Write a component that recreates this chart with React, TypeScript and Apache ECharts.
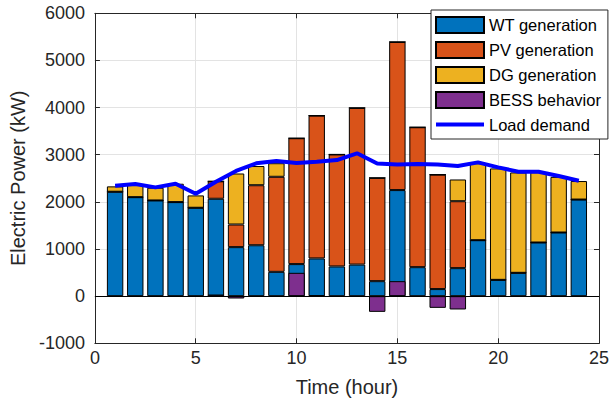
import React, { useEffect, useRef } from "react";
import * as echarts from "echarts";

const hours = [1, 2, 3, 4, 5, 6, 7, 8, 9, 10, 11, 12, 13, 14, 15, 16, 17, 18, 19, 20, 21, 22, 23, 24];
const wtGen = [2215, 2100, 2030, 1995, 1875, 2066, 1040, 1080, 516, 680, 800, 630, 670, 318, 2250, 615, 150, 594, 1187, 346, 495, 1138, 1350, 2049];
const pvGen = [0, 0, 0, 0, 0, 370, 480, 1273, 2016, 2670, 3030, 2376, 3323, 2191, 3142, 2968, 2428, 1420, 0, 0, 0, 0, 0, 0];
const dgGen = [114, 257, 270, 390, 262, 0, 1082, 407, 288, 0, 0, 0, 0, 0, 0, 0, 0, 461, 1633, 2364, 2130, 1492, 1180, 393];
const bess = [0, 0, 0, 0, 0, 35, -50, 0, 0, 495, 20, 0, 0, -333, 318, 0, -248, -283, 0, 0, 0, 0, 0, 0];
const loadDemand = [2342, 2378, 2307, 2385, 2172, 2427, 2657, 2817, 2866, 2824, 2852, 2887, 3030, 2813, 2795, 2802, 2795, 2760, 2838, 2732, 2640, 2640, 2548, 2449];
const xTicks = { min: 0, max: 25, interval: 5 };
const yTicks = { min: -1000, max: 6000, interval: 1000 };

const FONT = "'Liberation Sans', Arial, Helvetica, sans-serif";
const AXIS_COLOR = "#262626";
const GRID_COLOR = "#e3e3e3";
const BAR_W = 16.4;
const LINE_ICON = "path://M0,0L0.01,0ZM0,6L48,6L48,10L0,10ZM48,16L47.99,16Z";

export default function App() {
  const ref = useRef<HTMLDivElement>(null);
  useEffect(() => {
    if (!ref.current) return;
    const chart = echarts.init(ref.current, undefined, { renderer: "svg" });
    const barStyle = (color: string) => ({ color, borderColor: "#000", borderWidth: 1 });
    // hidden category axis spanning 0..25 so that category positions coincide with the value axis
    const slots = [xTicks.min, ...hours, xTicks.max];
    const padded = (vals: number[], dropZero = false) => [
      "-",
      ...vals.map((v) => (dropZero && v === 0 ? "-" : v)),
      "-",
    ];
    const tickLine = { show: true, inside: true, length: 5, lineStyle: { color: AXIS_COLOR } };
    const axisLine = { show: true, onZero: false, lineStyle: { color: AXIS_COLOR } };
    chart.setOption({
      animation: false,
      backgroundColor: "#fff",
      textStyle: { fontFamily: FONT },
      grid: { left: 92.5, right: 7.3, top: 13.3, bottom: 65.7 },
      legend: {
        orient: "vertical",
        left: 431,
        top: 10,
        itemWidth: 48,
        itemHeight: 16,
        itemGap: 7,
        padding: [6, 7, 6, 4],
        borderColor: AXIS_COLOR,
        borderWidth: 1,
        borderRadius: 0,
        backgroundColor: "#fff",
        textStyle: { fontSize: 16.5, color: "#000", fontFamily: FONT },
        data: [
          { name: "WT generation", icon: "rect" },
          { name: "PV generation", icon: "rect" },
          { name: "DG generation", icon: "rect" },
          { name: "BESS behavior", icon: "rect" },
          { name: "Load demand", icon: LINE_ICON },
        ],
      },
      xAxis: [
        {
          type: "value",
          ...xTicks,
          position: "bottom",
          axisLine,
          axisTick: tickLine,
          splitLine: { show: true, lineStyle: { color: GRID_COLOR, width: 1 } },
          axisLabel: { fontSize: 18, color: AXIS_COLOR, margin: 6, fontFamily: FONT },
          name: "Time (hour)",
          nameLocation: "middle",
          nameGap: 34,
          nameTextStyle: { fontSize: 20, color: AXIS_COLOR, fontFamily: FONT },
        },
        {
          type: "value",
          ...xTicks,
          position: "top",
          axisLine,
          axisTick: tickLine,
          splitLine: { show: false },
          axisLabel: { show: false },
        },
        {
          type: "category",
          data: slots,
          boundaryGap: false,
          show: false,
        },
      ],
      yAxis: [
        {
          type: "value",
          ...yTicks,
          position: "left",
          axisLine,
          axisTick: tickLine,
          splitLine: { show: true, lineStyle: { color: GRID_COLOR, width: 1 } },
          axisLabel: {
            fontSize: 18,
            color: AXIS_COLOR,
            margin: 10,
            fontFamily: FONT,
            formatter: (v: number) => String(v),
          },
          name: "Electric Power (kW)",
          nameLocation: "middle",
          nameGap: 64,
          nameTextStyle: { fontSize: 20, color: AXIS_COLOR, fontFamily: FONT },
        },
        {
          type: "value",
          ...yTicks,
          position: "right",
          axisLine,
          axisTick: tickLine,
          splitLine: { show: false },
          axisLabel: { show: false },
        },
      ],
      series: [
        {
          name: "WT generation",
          type: "bar",
          xAxisIndex: 2,
          stack: "gen",
          barWidth: BAR_W,
          itemStyle: barStyle("#0072BD"),
          data: padded(wtGen),
        },
        {
          name: "PV generation",
          type: "bar",
          xAxisIndex: 2,
          stack: "gen",
          barWidth: BAR_W,
          itemStyle: barStyle("#D95319"),
          data: padded(pvGen),
        },
        {
          name: "DG generation",
          type: "bar",
          xAxisIndex: 2,
          stack: "gen",
          barWidth: BAR_W,
          itemStyle: barStyle("#EDB120"),
          data: padded(dgGen),
        },
        {
          name: "BESS behavior",
          type: "bar",
          xAxisIndex: 2,
          barWidth: BAR_W,
          barGap: "-100%",
          itemStyle: barStyle("#7E2F8E"),
          data: padded(bess, true),
          markLine: {
            silent: true,
            symbol: ["none", "none"],
            label: { show: false },
            lineStyle: { color: "#000", width: 1, type: "solid" },
            data: [{ yAxis: 0 }],
          },
        },
        {
          name: "Load demand",
          type: "line",
          xAxisIndex: 0,
          symbol: "none",
          z: 5,
          lineStyle: { color: "#0000FF", width: 4 },
          itemStyle: { color: "#0000FF" },
          data: hours.map((h, i) => [h, loadDemand[i]]),
        },
      ],
    });
    return () => chart.dispose();
  }, []);
  return (
    <div
      ref={ref}
      style={{ position: "fixed", left: 0, top: 0, width: 612, height: 409 }}
    />
  );
}
